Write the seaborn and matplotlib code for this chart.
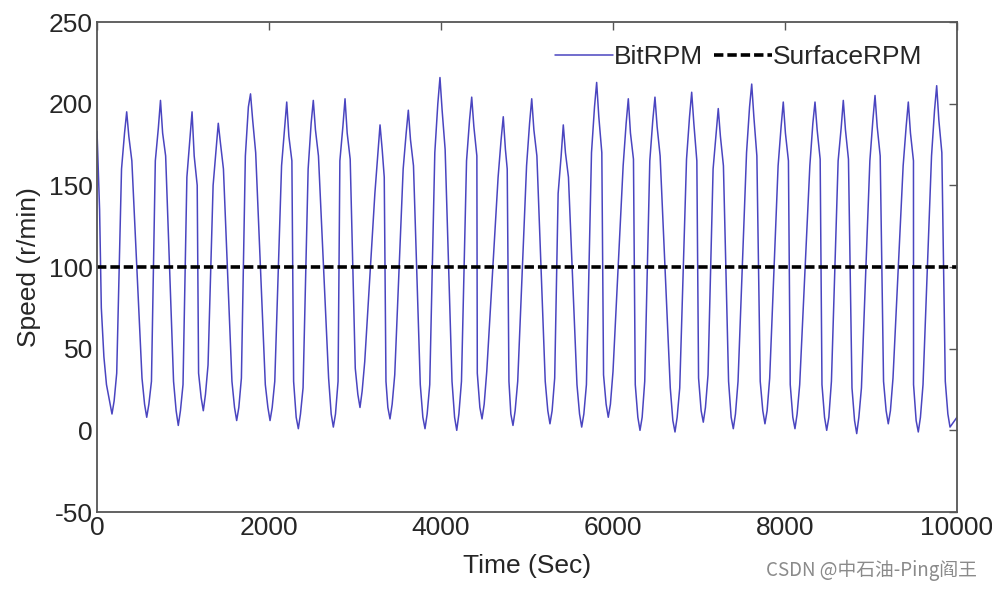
import numpy as np
import pandas as pd
import matplotlib
matplotlib.use("Agg")
import matplotlib.pyplot as plt
import seaborn as sns

# 曲线数据（从图中读取的转折点，单位：秒 / r/min）
start_t = [0, 30, 50, 80, 110]
start_v = [183, 135, 75, 45, 28]

peak_t = [345, 738, 1105, 1410, 1785, 2206, 2515, 2884, 3291, 3620, 3988, 4357, 4724, 5055,
          5422, 5810, 6178, 6488, 6915, 7224, 7613, 7980, 8349, 8678, 9047, 9434, 9764]
peak_v = [195, 202, 195, 188, 206, 201, 202, 203, 187, 196, 216, 204, 192, 203,
          187, 213, 203, 204, 207, 197, 212, 201, 201, 202, 205, 201, 211]

# 峰顶附近的抖动
peak_pre_t = [320, 713, 1080, 1385, 1760, 2181, 2490, 2859, 3266, 3595, 3963, 4332, 4699, 5030,
              5397, 5785, 6153, 6463, 6890, 7199, 7588, 7955, 8324, 8653, 9022, 9409, 9739]
peak_pre_v = [182, 185, 178, 172, 198, 185, 188, 186, 170, 182, 200, 190, 178, 188,
              168, 198, 188, 190, 192, 182, 198, 186, 188, 185, 190, 186, 196]
peak_post_t = [370, 763, 1130, 1435, 1810, 2231, 2540, 2909, 3316, 3645, 4013, 4382, 4749, 5080,
               5447, 5835, 6203, 6513, 6940, 7249, 7638, 8005, 8374, 8703, 9072, 9459, 9789]
peak_post_v = [180, 182, 168, 176, 190, 180, 184, 182, 172, 178, 196, 186, 172, 184,
               170, 192, 182, 186, 188, 180, 192, 182, 184, 184, 186, 182, 190]

trough_t = [174, 578, 945, 1236, 1624, 2012, 2341, 2748, 3058, 3407, 3814, 4183, 4477, 4837,
            5267, 5636, 5945, 6314, 6721, 7050, 7399, 7767, 8116, 8485, 8834, 9201, 9550, 9919]
trough_v = [10, 8, 3, 12, 6, 6, 1, 2, 14, 7, 1, 0, 7, 3,
            4, 2, 8, 0, -1, 5, 1, 4, 1, 0, -2, 4, -1, 2]

# 谷底附近的抖动
trough_pre_t = [553, 920, 1211, 1599, 1987, 2316, 2723, 3033, 3382, 3789, 4158, 4452, 4812, 5242,
                5611, 5920, 6289, 6696, 7025, 7374, 7742, 8091, 8460, 8809, 9176, 9525, 9894]
trough_pre_v = [16, 12, 20, 14, 14, 8, 10, 22, 14, 8, 8, 14, 10, 12,
                10, 16, 8, 6, 12, 8, 12, 8, 8, 6, 12, 6, 10]
trough_post_t = [199, 603, 970, 1261, 1649, 2037, 2366, 2773, 3083, 3432, 3839, 4208, 4502, 4862,
                 5292, 5661, 5970, 6339, 6746, 7075, 7424, 7792, 8141, 8510, 8859, 9226, 9575]
trough_post_v = [18, 16, 12, 22, 14, 14, 10, 10, 24, 16, 10, 10, 16, 12,
                 12, 10, 16, 8, 8, 14, 10, 12, 10, 8, 8, 12, 8]

# 上升 / 下降段的拐点
rise_lo_t = [229, 633, 1000, 1291, 1679, 2067, 2396, 2803, 3113, 3462, 3869, 4238, 4532, 4892,
             5322, 5691, 6000, 6369, 6776, 7105, 7454, 7822, 8171, 8540, 8889, 9256, 9605]
rise_lo_v = [35, 30, 28, 40, 32, 30, 26, 30, 42, 34, 28, 30, 36, 30,
             32, 28, 36, 30, 26, 34, 30, 32, 28, 30, 26, 32, 28]

rise_hi_t = [285, 678, 1045, 1350, 1725, 2146, 2455, 2824, 3231, 3560, 3928, 4297, 4664, 4995,
             5362, 5750, 6118, 6428, 6855, 7164, 7553, 7920, 8289, 8618, 8987, 9374, 9704]
rise_hi_v = [160, 165, 155, 150, 168, 162, 160, 165, 145, 160, 170, 165, 155, 162,
             145, 170, 162, 165, 166, 160, 170, 162, 162, 165, 165, 162, 168]

fall_hi_t = [405, 798, 1165, 1470, 1845, 2266, 2575, 2944, 3340, 3680, 4048, 4417, 4770, 5115,
             5482, 5870, 6238, 6548, 6975, 7284, 7673, 8040, 8409, 8738, 9107, 9494, 9824]
fall_hi_v = [165, 168, 150, 160, 170, 165, 168, 166, 155, 162, 172, 168, 160, 168,
             155, 170, 166, 168, 165, 162, 168, 165, 166, 166, 168, 165, 170]

fall_lo_t = [523, 890, 1181, 1569, 1957, 2286, 2693, 3003, 3360, 3759, 4128, 4422, 4790, 5212,
             5581, 5890, 6259, 6666, 6995, 7344, 7712, 8061, 8430, 8779, 9146, 9495, 9864]
fall_lo_v = [32, 30, 35, 30, 28, 30, 32, 38, 30, 28, 30, 35, 30, 30,
             28, 34, 28, 26, 32, 30, 30, 28, 28, 26, 30, 28, 30]

end_t = [10000]
end_v = [8]

surface_t = [0, 10000]
surface_v = [100, 100]

bit = pd.DataFrame({
    "t": (start_t + peak_t + peak_pre_t + peak_post_t + trough_t + trough_pre_t + trough_post_t
          + rise_lo_t + rise_hi_t + fall_hi_t + fall_lo_t + end_t),
    "v": (start_v + peak_v + peak_pre_v + peak_post_v + trough_v + trough_pre_v + trough_post_v
          + rise_lo_v + rise_hi_v + fall_hi_v + fall_lo_v + end_v),
}).sort_values("t")
surface = pd.DataFrame({"t": surface_t, "v": surface_v})

sns.set_style("white")
plt.rcParams["font.family"] = ["Liberation Sans", "DejaVu Sans"]
plt.rcParams["axes.unicode_minus"] = False

fig = plt.figure(figsize=(9.92, 5.9), dpi=100)
ax = fig.add_axes([0.0978, 0.1322, 0.8669, 0.8305])

sns.lineplot(data=bit, x="t", y="v", ax=ax, color="#4A45C0", lw=1.1,
             estimator=None, sort=False, label="BitRPM")
sns.lineplot(data=surface, x="t", y="v", ax=ax, color="black", lw=2.6,
             estimator=None, label="SurfaceRPM")
ax.lines[1].set_dashes([2.6, 1.1])

ax.set_xlim(0, 10000)
ax.set_ylim(-50, 250)
ax.set_xticks(range(0, 10001, 2000))
ax.set_yticks(range(-50, 251, 50))
ax.tick_params(direction="in", top=True, right=True, length=6, width=1,
               color="#555555", labelsize=19, pad=3)
for s in ax.spines.values():
    s.set_color("#555555")
    s.set_linewidth(1.3)

ax.set_xlabel("Time (Sec)", fontsize=19, labelpad=10)
ax.set_ylabel("Speed (r/min)", fontsize=19, labelpad=6)

ax.legend(loc="center right", bbox_to_anchor=(0.96, 0.929), ncol=2, frameon=False,
          fontsize=19, handlelength=2.2, handletextpad=0.05, columnspacing=0.4,
          borderpad=0, borderaxespad=0)

fig.text(0.985, 0.033, "CSDN @中石油-Ping阎王", ha="right", va="center", fontsize=13.5,
         color="#8a8a8a", family=["Noto Sans CJK SC", "DejaVu Sans"])

fig.savefig("out.png", dpi=100)
